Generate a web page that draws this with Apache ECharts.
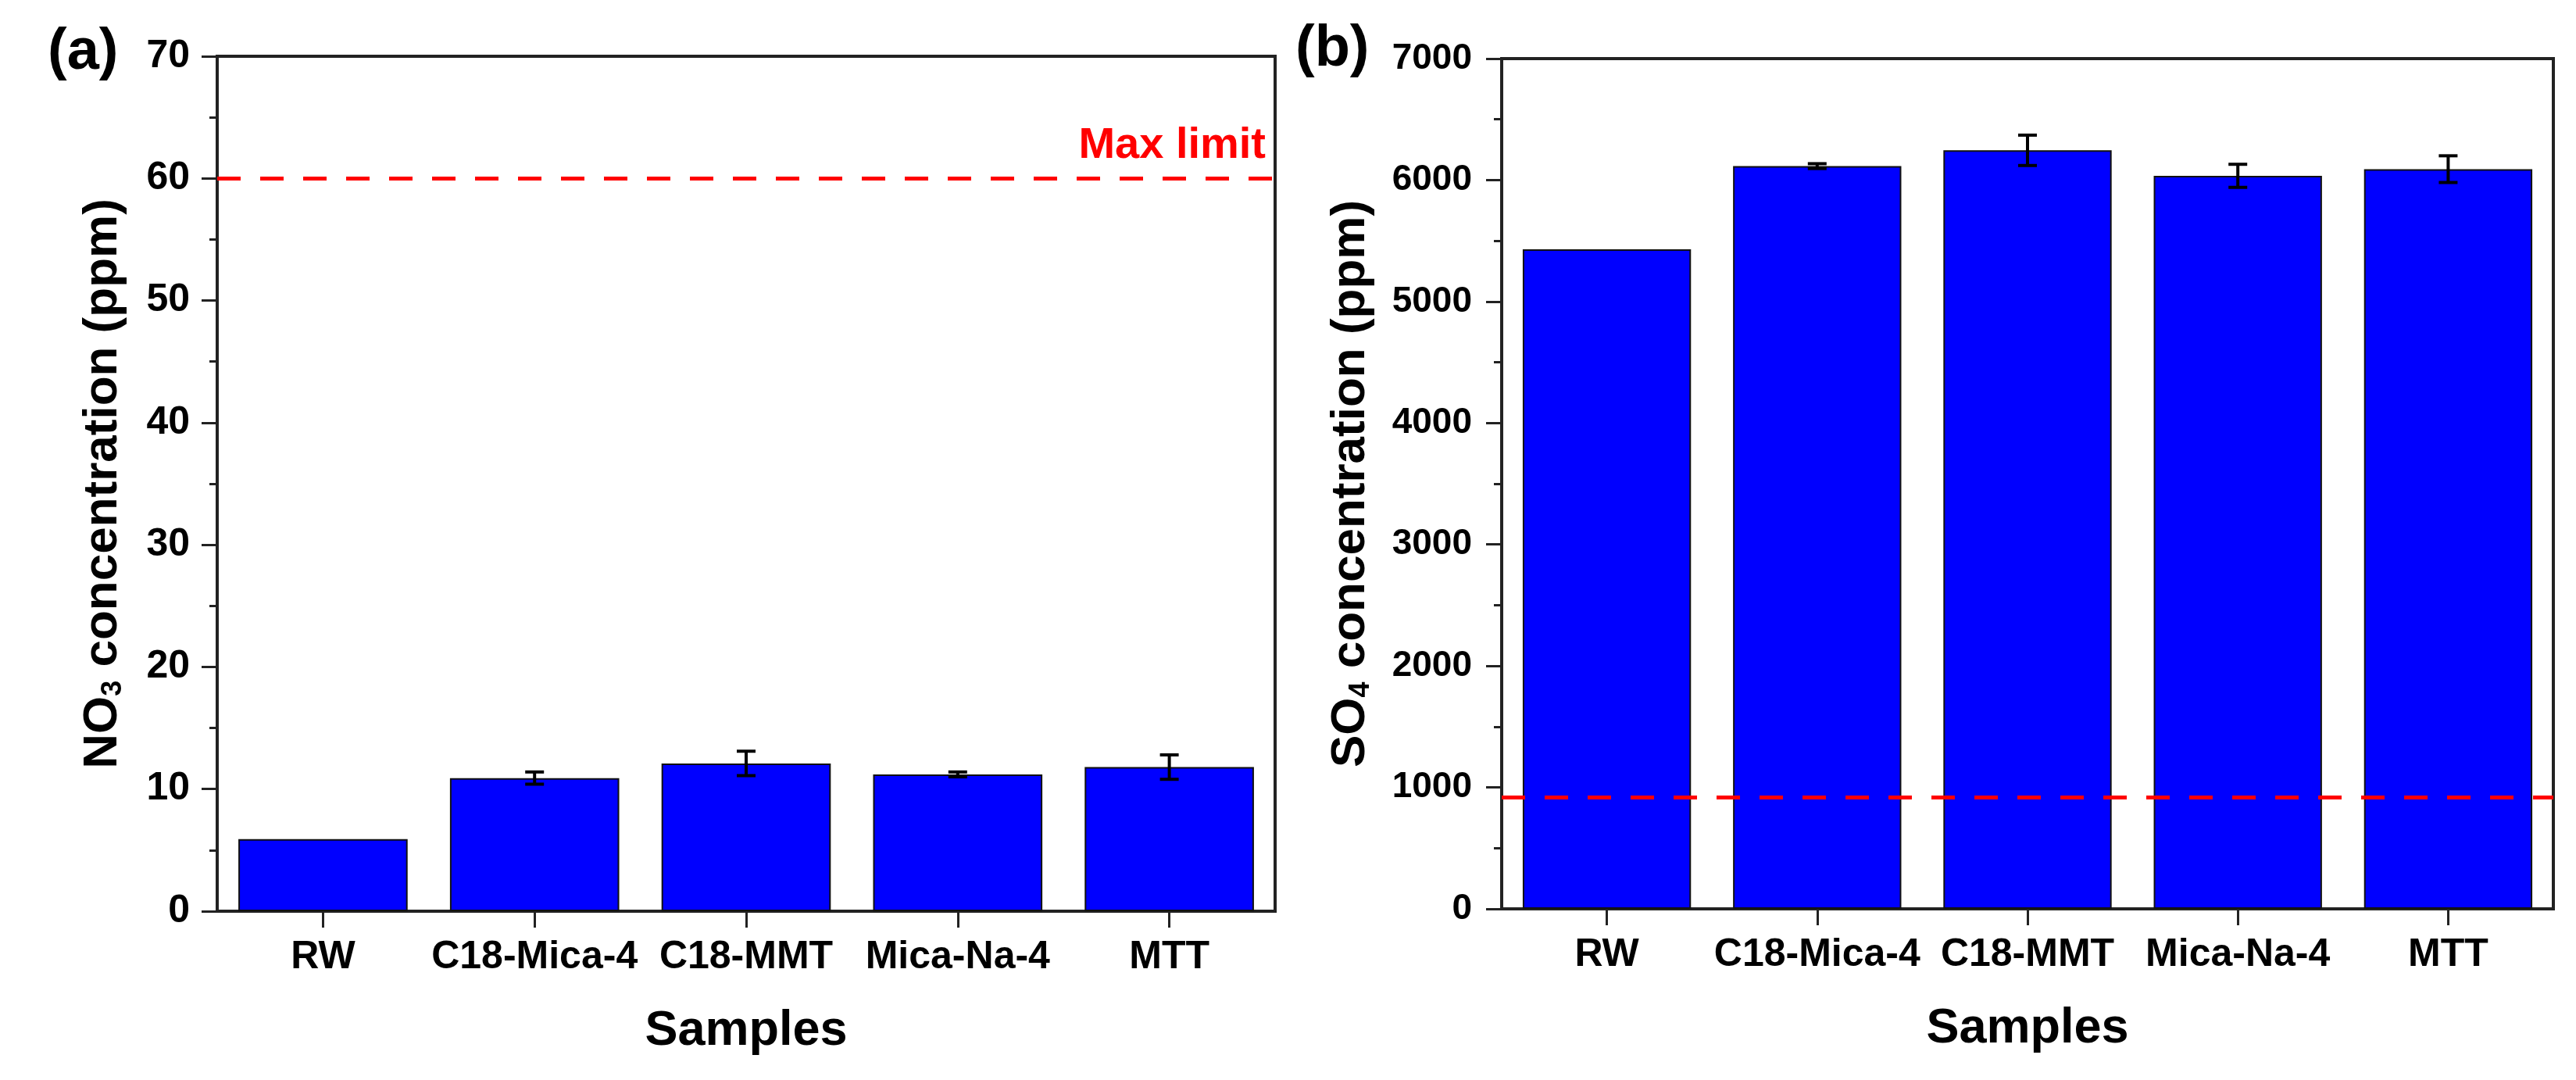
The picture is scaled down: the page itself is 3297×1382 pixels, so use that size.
<!DOCTYPE html>
<html>
<head>
<meta charset="utf-8">
<script src="https://cdn.jsdelivr.net/npm/echarts@6/dist/echarts.min.js"></script>
<style>
html,body{margin:0;padding:0;background:#fff;}
#chart{width:3297px;height:1382px;}
</style>
</head>
<body>
<div id="chart"></div>
<script>
// ---- data ----
const categories = ['RW', 'C18-Mica-4', 'C18-MMT', 'Mica-Na-4', 'MTT'];
const no3Values = [5.9, 10.9, 12.1, 11.2, 11.8];
const no3Errors = [0, 0.5, 1.0, 0.2, 1.0];
const so4Values = [5430, 6115, 6245, 6035, 6090];
const so4Errors = [0, 20, 125, 95, 110];
const no3Limit = 60;
const so4Limit = 920;
const no3Axis = { min: 0, max: 70, interval: 10 };
const so4Axis = { min: 0, max: 7000, interval: 1000 };
const panelLabels = ['(a)', '(b)'];
const xTitle = 'Samples';
const limitText = 'Max limit';

const FONT = '"Liberation Sans", Arial, sans-serif';
const AXIS_COLOR = '#222';

function errData(vals, errs) {
  return vals.map((v, i) => [i, v, errs[i]]);
}

function errorRender(params, api) {
  const i = api.value(0), v = api.value(1), e = api.value(2);
  if (!e) return null;
  const top = api.coord([i, v + e]);
  const bot = api.coord([i, v - e]);
  const hw = 12;
  const style = { stroke: '#000', lineWidth: 4 };
  return {
    type: 'group',
    children: [
      { type: 'line', shape: { x1: top[0], y1: top[1], x2: bot[0], y2: bot[1] }, style },
      { type: 'line', shape: { x1: top[0] - hw, y1: top[1], x2: top[0] + hw, y2: top[1] }, style },
      { type: 'line', shape: { x1: bot[0] - hw, y1: bot[1], x2: bot[0] + hw, y2: bot[1] }, style }
    ]
  };
}

function xAxisDef(gridIndex) {
  return {
    type: 'category', gridIndex, data: categories, boundaryGap: true,
    name: xTitle, nameLocation: 'middle', nameGap: 122,
    nameTextStyle: { fontFamily: FONT, fontSize: 63, fontWeight: 'bold', color: '#000' },
    axisLine: { show: true, lineStyle: { color: AXIS_COLOR, width: 4 } },
    axisTick: { show: true, alignWithLabel: true, inside: false, length: 21, lineStyle: { color: AXIS_COLOR, width: 3 } },
    axisLabel: { fontFamily: FONT, fontSize: 50, fontWeight: 'bold', color: '#000', margin: 34, interval: 0 },
    splitLine: { show: false }
  };
}

function yAxisDef(gridIndex, ax, name, gap, labelSize, margin) {
  return {
    type: 'value', gridIndex, min: ax.min, max: ax.max, interval: ax.interval,
    name, nameLocation: 'middle', nameRotate: 90, nameGap: gap,
    nameTextStyle: {
      fontFamily: FONT, fontSize: 62, fontWeight: 'bold', color: '#000',
      rich: {
        s: { fontFamily: FONT, fontSize: 36, fontWeight: 'bold', color: '#000', verticalAlign: 'bottom', lineHeight: 62 },
        n: { fontFamily: FONT, fontSize: 62, fontWeight: 'bold', color: '#000', lineHeight: 62 }
      }
    },
    axisLine: { show: true, lineStyle: { color: AXIS_COLOR, width: 4 } },
    axisTick: { show: true, inside: false, length: 20, lineStyle: { color: AXIS_COLOR, width: 3 } },
    minorTick: { show: true, splitNumber: 2, length: 10, lineStyle: { color: AXIS_COLOR, width: 3 } },
    axisLabel: {
      fontFamily: FONT, fontSize: labelSize, fontWeight: 'bold', color: '#000', margin,
      formatter: (v) => String(v)
    },
    splitLine: { show: false }
  };
}

const chart = echarts.init(document.getElementById('chart'));
chart.setOption({
  backgroundColor: '#fff',
  animation: false,
  title: [
    { text: panelLabels[0], left: 56, top: 26, textStyle: { fontFamily: FONT, fontSize: 74, fontWeight: 'bold', color: '#000' } },
    { text: panelLabels[1], left: 1653, top: 22, textStyle: { fontFamily: FONT, fontSize: 74, fontWeight: 'bold', color: '#000' } }
  ],
  grid: [
    { left: 278, right: 1665, top: 72, bottom: 216, show: true, borderColor: AXIS_COLOR, borderWidth: 4, backgroundColor: 'transparent' },
    { left: 1922, right: 29, top: 75, bottom: 219, show: true, borderColor: AXIS_COLOR, borderWidth: 4, backgroundColor: 'transparent' }
  ],
  xAxis: [xAxisDef(0), xAxisDef(1)],
  yAxis: [
    yAxisDef(0, no3Axis, '{n|NO}{s|3}{n| concentration (ppm)}', 115, 50, 35),
    yAxisDef(1, so4Axis, '{n|SO}{s|4}{n| concentration (ppm)}', 162, 46, 38)
  ],
  series: [
    {
      type: 'bar', xAxisIndex: 0, yAxisIndex: 0, data: no3Values, barCategoryGap: '20%',
      itemStyle: { color: '#0000ff', borderColor: '#111', borderWidth: 2 }, z: 2
    },
    {
      type: 'custom', xAxisIndex: 0, yAxisIndex: 0, data: errData(no3Values, no3Errors),
      renderItem: errorRender, encode: { x: 0, y: 1 }, z: 5,
      markLine: {
        silent: true, symbol: 'none', z: 6,
        lineStyle: { color: '#ff0000', width: 5, type: [30, 25] },
        label: {
          show: true, position: 'insideEndTop', formatter: limitText, distance: [12, 14],
          fontFamily: FONT, fontSize: 56, fontWeight: 'bold', color: '#ff0000'
        },
        data: [{ yAxis: no3Limit }]
      }
    },
    {
      type: 'bar', xAxisIndex: 1, yAxisIndex: 1, data: so4Values, barCategoryGap: '20%',
      itemStyle: { color: '#0000ff', borderColor: '#111', borderWidth: 2 }, z: 2
    },
    {
      type: 'custom', xAxisIndex: 1, yAxisIndex: 1, data: errData(so4Values, so4Errors),
      renderItem: errorRender, encode: { x: 0, y: 1 }, z: 5,
      markLine: {
        silent: true, symbol: 'none', z: 6,
        lineStyle: { color: '#ff0000', width: 5, type: [30, 25] },
        label: { show: false },
        data: [{ yAxis: so4Limit }]
      }
    }
  ]
});
</script>
</body>
</html>
